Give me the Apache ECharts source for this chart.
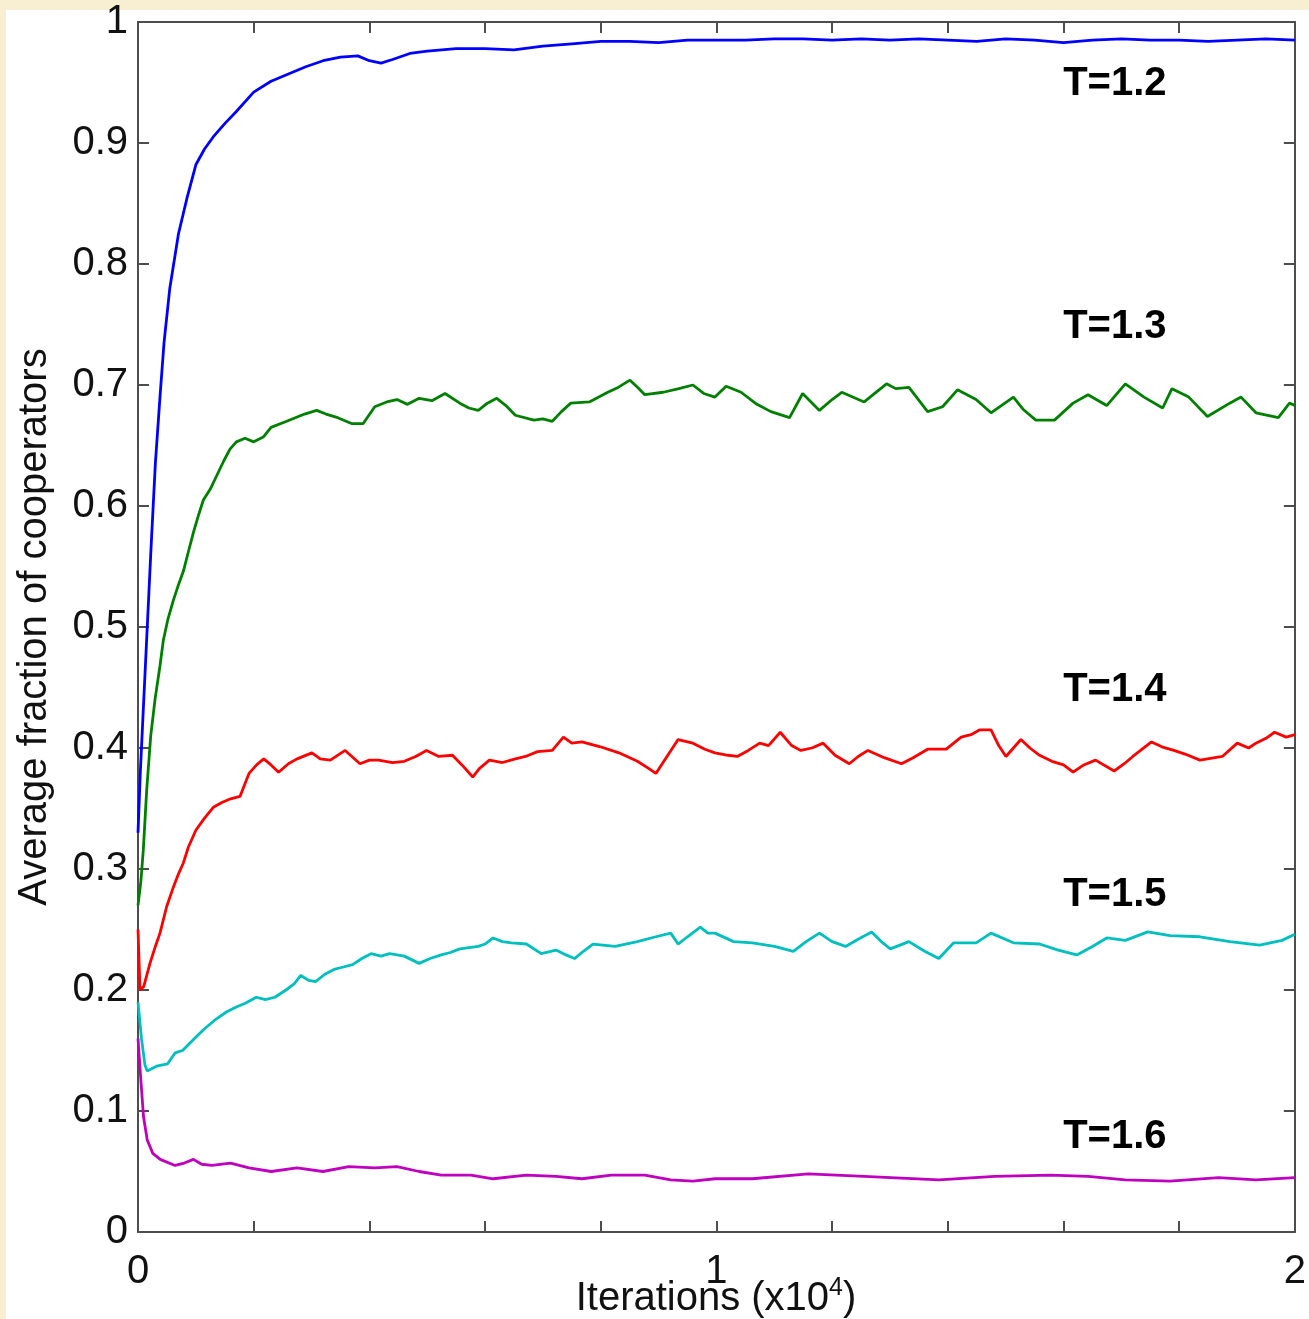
<!DOCTYPE html>
<html>
<head>
<meta charset="utf-8">
<script src="https://cdn.jsdelivr.net/npm/echarts@6/dist/echarts.min.js"></script>
<style>
  html, body { margin: 0; padding: 0; width: 1309px; height: 1319px; overflow: hidden; background: #f8efd3; }
  #panel { position: absolute; left: 6px; top: 10px; width: 1303px; height: 1309px; background: #ffffff; }
  #chart { position: absolute; left: 0; top: 0; width: 1309px; height: 1319px; }
</style>
</head>
<body>
<div id="panel"></div>
<div id="chart"></div>
<script>
// ---- data (iterations, fraction of cooperators) ----
const xTicks = ['0', '1', '2'];

const blueX = [0, 40, 80, 150, 220, 300, 380, 450, 550, 700, 850, 1000, 1150, 1300, 1500, 1700, 2000, 2300, 2600, 2900, 3200, 3500, 3800, 4000, 4200, 4400, 4700, 5000, 5500, 6000, 6500, 7000, 7500, 8000, 8500, 9000, 9500, 10000, 10500, 11000, 11500, 12000, 12500, 13000, 13500, 14000, 14500, 15000, 15500, 16000, 16500, 17000, 17500, 18000, 18500, 19000, 19500, 20000];
const blueY = [0.33, 0.38, 0.42, 0.49, 0.56, 0.635, 0.69, 0.735, 0.78, 0.825, 0.855, 0.882, 0.895, 0.905, 0.916, 0.926, 0.942, 0.951, 0.957, 0.963, 0.968, 0.971, 0.972, 0.968, 0.966, 0.969, 0.974, 0.976, 0.978, 0.978, 0.977, 0.980, 0.982, 0.984, 0.984, 0.983, 0.985, 0.985, 0.985, 0.986, 0.986, 0.985, 0.986, 0.985, 0.986, 0.985, 0.984, 0.986, 0.985, 0.983, 0.985, 0.986, 0.985, 0.985, 0.984, 0.985, 0.986, 0.985];

const greenX = [0, 50, 92, 150, 220, 294, 380, 438, 520, 611, 700, 784, 870, 957, 1050, 1130, 1250, 1360, 1480, 1590, 1700, 1850, 2000, 2166, 2300, 2570, 2880, 3089, 3250, 3453, 3700, 3890, 4093, 4300, 4477, 4660, 4860, 5080, 5308, 5564, 5720, 5883, 6040, 6203, 6360, 6523, 6843, 7000, 7162, 7320, 7482, 7802, 8122, 8300, 8505, 8640, 8761, 9081, 9350, 9593, 9780, 9974, 10168, 10426, 10700, 10942, 11264, 11490, 11780, 12000, 12167, 12554, 12941, 13100, 13328, 13651, 13909, 14167, 14489, 14747, 15134, 15300, 15521, 15844, 16166, 16424, 16747, 17069, 17392, 17714, 17875, 18166, 18488, 18875, 19069, 19327, 19714, 19907, 20000];
const greenY = [0.27, 0.29, 0.316, 0.365, 0.41, 0.44, 0.468, 0.489, 0.507, 0.522, 0.535, 0.546, 0.562, 0.578, 0.593, 0.605, 0.614, 0.625, 0.637, 0.647, 0.653, 0.656, 0.653, 0.657, 0.665, 0.670, 0.676, 0.679, 0.676, 0.673, 0.668, 0.668, 0.682, 0.686, 0.688, 0.684, 0.689, 0.687, 0.693, 0.685, 0.681, 0.679, 0.685, 0.689, 0.683, 0.675, 0.671, 0.672, 0.670, 0.678, 0.685, 0.686, 0.694, 0.698, 0.704, 0.698, 0.692, 0.694, 0.697, 0.700, 0.693, 0.690, 0.699, 0.694, 0.684, 0.678, 0.673, 0.693, 0.679, 0.688, 0.694, 0.686, 0.701, 0.697, 0.698, 0.678, 0.682, 0.696, 0.688, 0.677, 0.690, 0.680, 0.671, 0.671, 0.685, 0.692, 0.683, 0.701, 0.690, 0.681, 0.697, 0.690, 0.674, 0.685, 0.690, 0.677, 0.673, 0.685, 0.683];

const redX = [0, 35, 100, 207, 300, 380, 496, 611, 700, 784, 870, 1000, 1150, 1302, 1450, 1600, 1763, 1919, 2050, 2174, 2300, 2430, 2600, 2750, 3006, 3150, 3325, 3581, 3837, 4000, 4157, 4400, 4604, 4800, 4988, 5200, 5436, 5600, 5787, 5900, 6075, 6300, 6523, 6700, 6907, 7162, 7354, 7500, 7674, 7994, 8314, 8633, 8800, 8953, 9145, 9337, 9593, 9800, 9974, 10200, 10361, 10550, 10748, 10900, 11103, 11300, 11458, 11650, 11845, 12050, 12296, 12450, 12619, 12900, 13199, 13400, 13651, 13973, 14231, 14400, 14554, 14747, 14880, 15005, 15263, 15420, 15586, 15800, 16000, 16166, 16350, 16553, 16876, 17050, 17198, 17521, 17700, 17908, 18100, 18359, 18746, 19004, 19200, 19327, 19500, 19649, 19850, 20000];
const redY = [0.25, 0.200, 0.203, 0.222, 0.236, 0.247, 0.269, 0.285, 0.296, 0.305, 0.318, 0.332, 0.342, 0.351, 0.355, 0.358, 0.360, 0.379, 0.386, 0.391, 0.386, 0.380, 0.387, 0.391, 0.396, 0.391, 0.390, 0.398, 0.387, 0.390, 0.390, 0.388, 0.389, 0.393, 0.398, 0.393, 0.394, 0.386, 0.376, 0.383, 0.390, 0.388, 0.391, 0.393, 0.397, 0.398, 0.409, 0.404, 0.405, 0.401, 0.396, 0.389, 0.384, 0.379, 0.393, 0.407, 0.404, 0.399, 0.396, 0.394, 0.393, 0.398, 0.404, 0.402, 0.413, 0.402, 0.398, 0.400, 0.404, 0.394, 0.387, 0.393, 0.398, 0.392, 0.387, 0.392, 0.399, 0.399, 0.409, 0.411, 0.415, 0.415, 0.402, 0.393, 0.407, 0.400, 0.394, 0.389, 0.386, 0.380, 0.386, 0.390, 0.381, 0.387, 0.393, 0.405, 0.401, 0.398, 0.395, 0.390, 0.393, 0.404, 0.400, 0.404, 0.408, 0.413, 0.409, 0.411];

const cyanX = [0, 60, 120, 160, 320, 512, 640, 770, 895, 1020, 1151, 1350, 1535, 1700, 1855, 2046, 2200, 2366, 2558, 2700, 2814, 2950, 3070, 3230, 3389, 3550, 3709, 3870, 4029, 4200, 4349, 4604, 4860, 5050, 5244, 5400, 5564, 5883, 6000, 6139, 6300, 6459, 6715, 6971, 7226, 7400, 7546, 7700, 7866, 8250, 8633, 8953, 9209, 9337, 9500, 9721, 9850, 9974, 10297, 10619, 11006, 11329, 11550, 11780, 12000, 12232, 12450, 12683, 12850, 13006, 13328, 13600, 13844, 14102, 14489, 14747, 15134, 15586, 15908, 16231, 16500, 16747, 17069, 17456, 17843, 18359, 18875, 19391, 19778, 20000];
const cyanY = [0.19, 0.16, 0.138, 0.133, 0.137, 0.139, 0.148, 0.150, 0.156, 0.162, 0.168, 0.176, 0.182, 0.186, 0.189, 0.194, 0.192, 0.194, 0.200, 0.205, 0.212, 0.208, 0.207, 0.213, 0.217, 0.219, 0.221, 0.226, 0.230, 0.228, 0.230, 0.228, 0.222, 0.226, 0.229, 0.231, 0.234, 0.236, 0.238, 0.243, 0.240, 0.239, 0.238, 0.230, 0.233, 0.229, 0.226, 0.232, 0.238, 0.236, 0.240, 0.244, 0.247, 0.238, 0.244, 0.252, 0.247, 0.247, 0.240, 0.239, 0.236, 0.232, 0.240, 0.247, 0.240, 0.236, 0.242, 0.248, 0.240, 0.234, 0.240, 0.232, 0.226, 0.239, 0.239, 0.247, 0.239, 0.238, 0.233, 0.229, 0.236, 0.243, 0.241, 0.248, 0.245, 0.244, 0.240, 0.237, 0.241, 0.246];

const magentaX = [0, 50, 96, 160, 256, 384, 640, 800, 959, 1100, 1279, 1599, 1919, 2302, 2750, 3198, 3645, 4093, 4477, 4860, 5244, 5756, 6139, 6715, 7226, 7674, 8186, 8761, 9209, 9593, 9976, 10619, 11587, 12554, 13844, 14812, 15779, 16424, 17069, 17843, 18682, 19327, 20000];
const magentaY = [0.16, 0.125, 0.095, 0.076, 0.065, 0.060, 0.055, 0.057, 0.060, 0.056, 0.055, 0.057, 0.053, 0.050, 0.053, 0.050, 0.054, 0.053, 0.054, 0.050, 0.047, 0.047, 0.044, 0.047, 0.046, 0.044, 0.047, 0.047, 0.043, 0.042, 0.044, 0.044, 0.048, 0.046, 0.043, 0.046, 0.047, 0.046, 0.043, 0.042, 0.045, 0.043, 0.045];

const seriesNames = ['T=1.2', 'T=1.3', 'T=1.4', 'T=1.5', 'T=1.6'];
const labelX = [16888, 16888, 16888, 16888, 16888];
const labelY = [0.949, 0.748, 0.448, 0.2785, 0.0785];

// ---- chart ----
const zip = (xs, ys) => xs.map((x, i) => [x, ys[i]]);
const FONT = '"Liberation Sans", Arial, Helvetica, sans-serif';
const AX = '#4d4d4d';

const lines = [
  { name: seriesNames[0], x: blueX, y: blueY, color: '#0000ff' },
  { name: seriesNames[1], x: greenX, y: greenY, color: '#008000' },
  { name: seriesNames[2], x: redX, y: redY, color: '#ff0000' },
  { name: seriesNames[3], x: cyanX, y: cyanY, color: '#00bfbf' },
  { name: seriesNames[4], x: magentaX, y: magentaY, color: '#bf00bf' }
];

const chart = echarts.init(document.getElementById('chart'), null, { renderer: 'canvas' });

const baseX = {
  type: 'value', min: 0, max: 20000, interval: 2000,
  axisLine: { show: true, onZero: false, lineStyle: { color: AX, width: 2 } },
  axisTick: { show: true, inside: true, length: 11, lineStyle: { color: AX, width: 2 } },
  splitLine: { show: false }
};
const baseY = {
  type: 'value', min: 0, max: 1, interval: 0.1,
  axisLine: { show: true, onZero: false, lineStyle: { color: AX, width: 2 } },
  axisTick: { show: true, inside: true, length: 11, lineStyle: { color: AX, width: 2 } },
  splitLine: { show: false }
};

chart.setOption({
  animation: false,
  grid: { left: 138, right: 14, top: 22, bottom: 87, containLabel: false },
  xAxis: [
    Object.assign({}, baseX, {
      position: 'bottom',
      axisLabel: {
        show: true, margin: 20, color: '#111', fontSize: 40, fontFamily: FONT,
        showMinLabel: true, showMaxLabel: true,
        formatter: v => (v % 10000 === 0 ? xTicks[v / 10000] : '')
      }
    }),
    Object.assign({}, baseX, { position: 'top', axisLabel: { show: false } })
  ],
  yAxis: [
    Object.assign({}, baseY, {
      position: 'left',
      axisLabel: {
        show: true, margin: 10, color: '#111', fontSize: 40, fontFamily: FONT,
        showMinLabel: true, showMaxLabel: true,
        formatter: v => String(Math.round(v * 10) / 10)
      }
    }),
    Object.assign({}, baseY, { position: 'right', axisLabel: { show: false } })
  ],
  series: lines.map(l => ({
    name: l.name, type: 'line', xAxisIndex: 0, yAxisIndex: 0,
    data: zip(l.x, l.y), showSymbol: false, symbol: 'none', clip: true,
    lineStyle: { color: l.color, width: 2.8 }, itemStyle: { color: l.color },
    z: 2
  })).concat([{
    type: 'scatter', xAxisIndex: 0, yAxisIndex: 0, symbolSize: 1,
    itemStyle: { color: 'rgba(0,0,0,0)', opacity: 1 }, silent: true, z: 5,
    data: labelX.map((x, i) => ({ value: [x, labelY[i]], name: seriesNames[i] })),
    label: {
      show: true, position: 'inside', formatter: p => p.name, opacity: 1,
      color: '#000', fontSize: 40, fontWeight: 'bold', fontFamily: FONT,
      textBorderWidth: 0
    }
  }]),
  graphic: [
    {
      type: 'text', x: 35, y: 627, rotation: Math.PI / 2,
      style: {
        text: 'Average fraction of cooperators', fill: '#111',
        font: '40px ' + FONT, textAlign: 'center', textVerticalAlign: 'middle'
      }
    },
    {
      type: 'text', x: 716, y: 1299,
      style: {
        text: '{a|Iterations (x10}{s|4}{a|)}',
        textAlign: 'center', textVerticalAlign: 'middle',
        rich: {
          a: { fontSize: 40, fontFamily: FONT, fill: '#111', color: '#111', lineHeight: 46 },
          s: { fontSize: 25, fontFamily: FONT, fill: '#111', color: '#111', lineHeight: 46, padding: [0, 0, 22, 0] }
        }
      }
    }
  ]
});
</script>
</body>
</html>
